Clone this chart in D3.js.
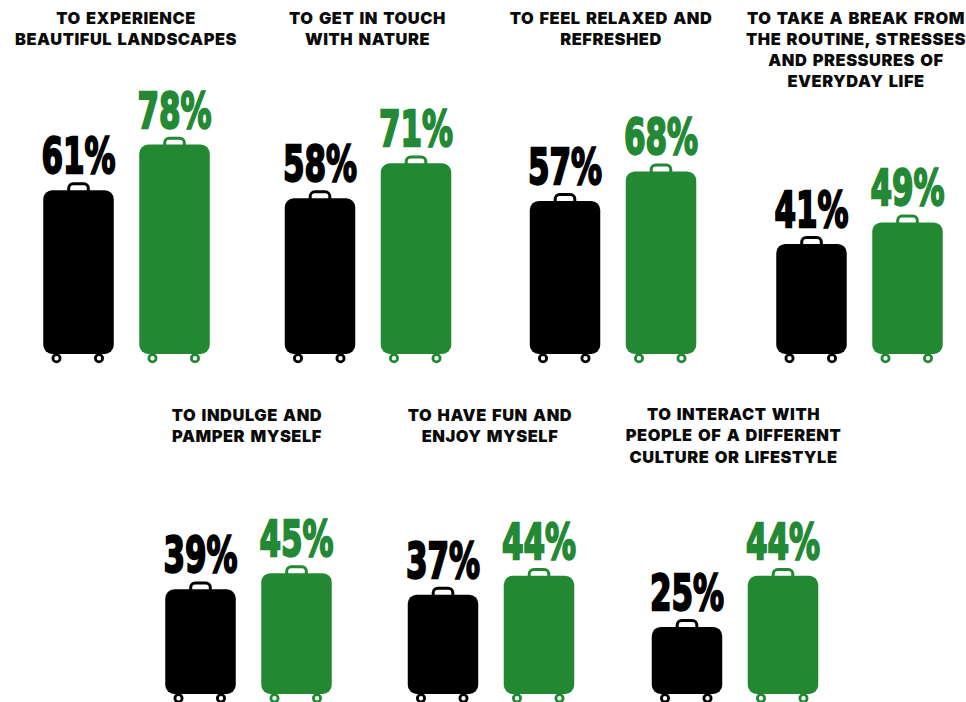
<!DOCTYPE html>
<html>
<head>
<meta charset="utf-8">
<script src="https://cdn.jsdelivr.net/npm/d3@7"></script>
<style>
  html, body { margin: 0; padding: 0; background: #fff; }
  svg { display: block; }
  .reason { font-family: Inter, Roboto, sans-serif; font-weight: 900; font-size: 16.4px; letter-spacing: 0.55px; word-spacing: 1.5px; fill: #0b0b0b; text-anchor: middle; }
  .pct { font-family: "DejaVu Sans", sans-serif; font-weight: 700; font-size: 50px; text-anchor: middle; stroke-width: 2.3; stroke-linejoin: miter; opacity: 0.99; }
</style>
</head>
<body>
<script>
// Reasons for travelling, two survey groups per reason
const reasons = [
  ["TO EXPERIENCE", "BEAUTIFUL LANDSCAPES"],
  ["TO GET IN TOUCH", "WITH NATURE"],
  ["TO FEEL RELAXED AND", "REFRESHED"],
  ["TO TAKE A BREAK FROM", "THE ROUTINE, STRESSES", "AND PRESSURES OF", "EVERYDAY LIFE"],
  ["TO INDULGE AND", "PAMPER MYSELF"],
  ["TO HAVE FUN AND", "ENJOY MYSELF"],
  ["TO INTERACT WITH", "PEOPLE OF A DIFFERENT", "CULTURE OR LIFESTYLE"]
];
const blackValues = [61, 58, 57, 41, 39, 37, 25];
const greenValues = [78, 71, 68, 49, 45, 44, 44];
const seriesColors = ["#000000", "#228832"];

// Panel anchors: centre of each pair, centre of its heading, baseline of its row
const pairCentres = [126.5, 368, 613, 859.5, 248.5, 491, 735];
const titleCentres = [126, 367.5, 611, 856, 247, 490, 733.5];
const rowBaselines = [354, 354, 354, 354, 694, 694, 694];
const titleTops = [23.5, 23.5, 23.5, 23.5, 421, 421, 420];

const W = 966, H = 702;
const caseWidth = 70.5, caseGap = 25.5, cornerR = 9;

const svg = d3.select("body").append("svg").attr("width", W).attr("height", H);
const heightScale = d3.scaleLinear().domain([0, 100]).range([0, 268.5]);

reasons.forEach((lines, i) => {
  const g = svg.append("g");
  const cx = pairCentres[i], base = rowBaselines[i];

  g.selectAll("text.reason").data(lines).join("text")
    .attr("class", "reason")
    .attr("x", titleCentres[i])
    .attr("y", (d, k) => titleTops[i] + k * 21.3)
    .text(d => d);

  [blackValues[i], greenValues[i]].forEach((v, s) => {
    const color = seriesColors[s];
    const left = cx + (s === 0 ? -(caseGap / 2 + caseWidth) : caseGap / 2);
    const mid = left + caseWidth / 2;
    const top = base - heightScale(v);

    // handle, drawn first so the body overlaps its feet
    g.append("rect")
      .attr("x", mid - 9.8).attr("y", top - 6.4)
      .attr("width", 19.6).attr("height", 12)
      .attr("rx", 4.5)
      .attr("fill", "none").attr("stroke", color).attr("stroke-width", 3);

    // suitcase body
    g.append("rect")
      .attr("x", left).attr("y", top)
      .attr("width", caseWidth).attr("height", heightScale(v))
      .attr("rx", cornerR)
      .attr("fill", color);

    // wheels
    g.selectAll(null).data([-22, 20.5]).join("circle")
      .attr("cx", d => mid + d).attr("cy", base + 4.3)
      .attr("r", 3.6)
      .attr("fill", "#fff").attr("stroke", color).attr("stroke-width", 2.8);

    // percentage label, condensed heavy numerals
    g.append("text")
      .attr("class", "pct")
      .attr("transform", `translate(${mid},${top - 17}) scale(0.62,1)`)
      .attr("fill", color).attr("stroke", color)
      .text(v + "%");
  });
});
</script>
</body>
</html>
